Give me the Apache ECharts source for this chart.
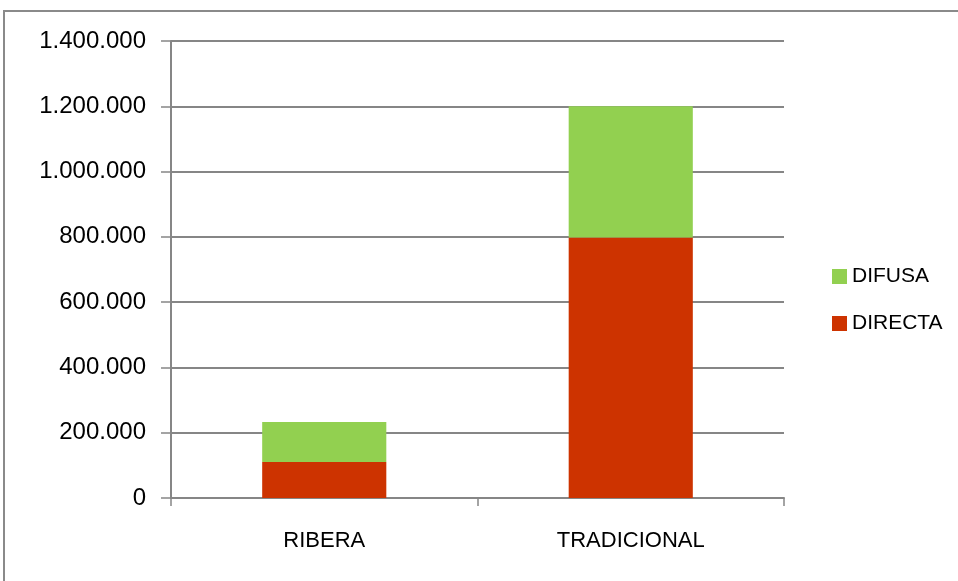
<!DOCTYPE html>
<html>
<head>
<meta charset="utf-8">
<script src="https://cdn.jsdelivr.net/npm/echarts@6/dist/echarts.min.js"></script>
<style>
  html, body { margin: 0; padding: 0; background: #fff; }
  #chart { width: 958px; height: 581px; }
</style>
</head>
<body>
<div id="chart"></div>
<script>
  // datos
  const categories = ['RIBERA', 'TRADICIONAL'];
  const directa = [110000, 798000];
  const difusa = [123000, 402000];
  const yTicks = [0, 1400000, 200000]; // min, max, intervalo

  // 1.400.000 style labels
  function fmt (v) {
    return String(v).replace(/\B(?=(\d{3})+(?!\d))/g, '.');
  }

  const chart = echarts.init(document.getElementById('chart'));
  const option = {
    animation: false,
    textStyle: { fontFamily: 'Liberation Sans, Arial, sans-serif' },
    grid: { left: 171, right: 174, top: 41, bottom: 83 },
    graphic: [{
      type: 'rect',
      shape: { x: 4, y: 11, width: 1000, height: 1000 },
      style: { fill: 'none', stroke: '#8a8a8a', lineWidth: 2 },
      silent: true
    }],
    legend: {
      data: ['DIFUSA', 'DIRECTA'],
      orient: 'vertical',
      left: 827,
      top: 261,
      icon: 'rect',
      itemWidth: 15,
      itemHeight: 15,
      itemGap: 26,
      textStyle: { fontSize: 21, color: '#000', fontFamily: 'Liberation Sans, Arial, sans-serif' }
    },
    xAxis: {
      type: 'category',
      data: categories,
      axisLine: { lineStyle: { color: '#868686', width: 2 } },
      axisTick: { show: true, length: 8, lineStyle: { color: '#868686', width: 1.5 } },
      axisLabel: { fontSize: 22, color: '#000', margin: 32 }
    },
    yAxis: {
      type: 'value',
      min: yTicks[0],
      max: yTicks[1],
      interval: yTicks[2],
      axisLine: { show: true, lineStyle: { color: '#868686', width: 2 } },
      axisTick: { show: true, length: 10, lineStyle: { color: '#868686', width: 1.5 } },
      splitLine: { lineStyle: { color: '#868686', width: 2 } },
      axisLabel: { fontSize: 24, color: '#000', margin: 25, formatter: fmt }
    },
    series: [{
      name: 'DIRECTA',
      type: 'bar',
      stack: 'total',
      barWidth: '40.5%',
      itemStyle: { color: '#CD3300' },
      data: directa
    }, {
      name: 'DIFUSA',
      type: 'bar',
      stack: 'total',
      barWidth: '40.5%',
      itemStyle: { color: '#92D050' },
      data: difusa
    }]
  };
  chart.setOption(option);
</script>
</body>
</html>
